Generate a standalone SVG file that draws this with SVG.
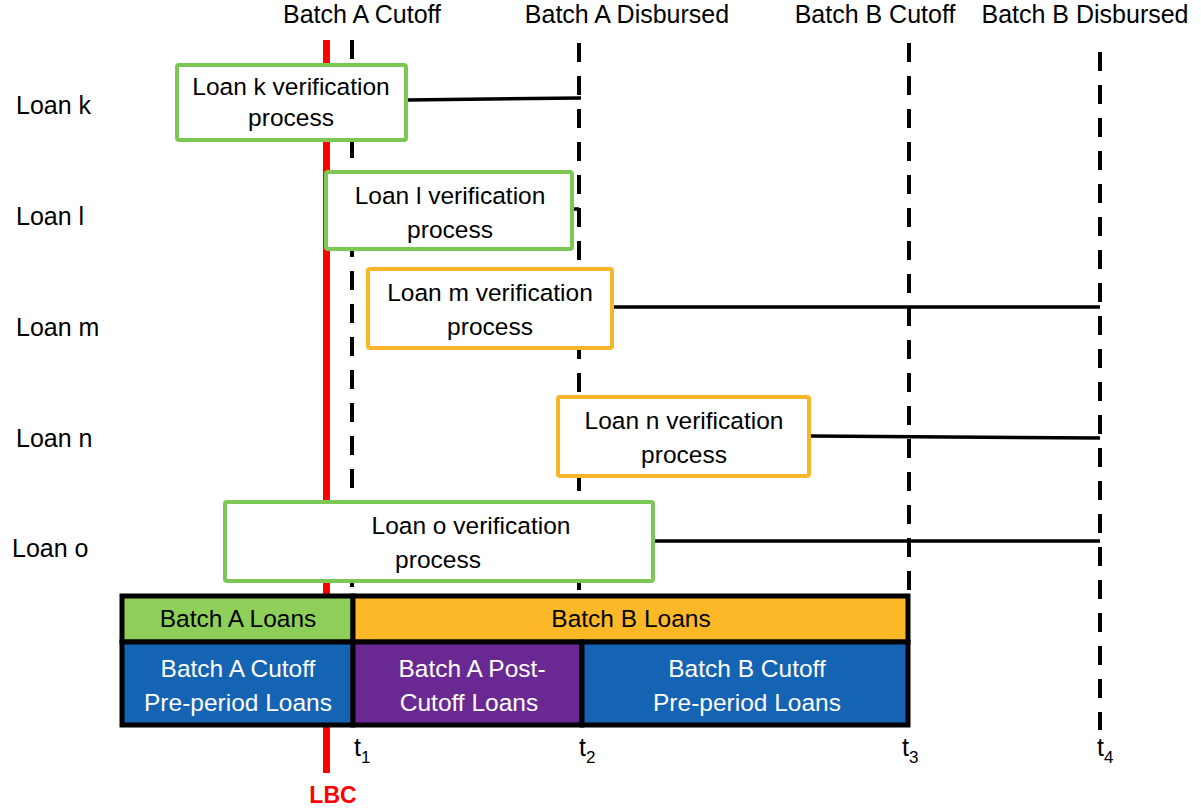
<svg xmlns="http://www.w3.org/2000/svg" width="1201" height="812" viewBox="0 0 1201 812">
<style>
text{font-family:"Liberation Sans",Arial,sans-serif;fill:#000}
.lbl{font-size:25px}
.bx{font-size:24.5px;text-anchor:middle}
.wt{font-size:24.5px;text-anchor:middle;fill:#fff}
.dash{stroke:#000;stroke-width:4;stroke-dasharray:19 14;fill:none}
.gbox{fill:#fff;stroke:#7dc855;stroke-width:4}
.obox{fill:#fff;stroke:#f9b62b;stroke-width:4}
.conn{stroke:#000;stroke-width:3.5;fill:none}
.cell{stroke:#000;stroke-width:5}
.sub{font-size:17px}
</style>
<rect width="1201" height="812" fill="#fff"/>
<g id="top-labels">
<text class="lbl" x="362" y="23" text-anchor="middle">Batch A Cutoff</text>
<text class="lbl" x="627" y="23" text-anchor="middle">Batch A Disbursed</text>
<text class="lbl" x="875" y="23" text-anchor="middle">Batch B Cutoff</text>
<text class="lbl" x="1085" y="23" text-anchor="middle">Batch B Disbursed</text>
</g>
<g id="row-labels">
<text class="lbl" x="16" y="114">Loan k</text>
<text class="lbl" x="16" y="225">Loan l</text>
<text class="lbl" x="16" y="336">Loan m</text>
<text class="lbl" x="16" y="447">Loan n</text>
<text class="lbl" x="12" y="557">Loan o</text>
</g>
<g id="timelines">
<line class="dash" x1="352" y1="40" x2="352" y2="594"/>
<line class="dash" x1="579" y1="43" x2="579" y2="594"/>
<line class="dash" x1="909" y1="43" x2="909" y2="594"/>
<line class="dash" x1="1100" y1="52" x2="1100" y2="730"/>
<line id="lbc-line" x1="326.5" y1="40" x2="326.5" y2="773" stroke="#ff0000" stroke-width="7"/>
</g>
<g id="connectors">
<line class="conn" x1="407" y1="100" x2="581" y2="98"/>
<line class="conn" x1="573" y1="209" x2="579" y2="209"/>
<line class="conn" x1="613" y1="307" x2="1100" y2="307"/>
<line class="conn" x1="810" y1="436" x2="1100" y2="438"/>
<line class="conn" x1="654" y1="541" x2="1100" y2="541"/>
</g>
<g id="loan-k">
<rect class="gbox" x="177" y="65" width="229" height="75" rx="2"/>
<text class="bx" x="291" y="95">Loan k verification</text>
<text class="bx" x="291" y="126">process</text>
</g>
<g id="loan-l">
<rect class="gbox" x="326" y="172" width="246" height="77" rx="2"/>
<text class="bx" x="450" y="204">Loan l verification</text>
<text class="bx" x="450" y="238">process</text>
</g>
<g id="loan-m">
<rect class="obox" x="368" y="269" width="244" height="79" rx="2"/>
<text class="bx" x="490" y="301">Loan m verification</text>
<text class="bx" x="490" y="335">process</text>
</g>
<g id="loan-n">
<rect class="obox" x="558" y="397" width="251" height="79" rx="2"/>
<text class="bx" x="684" y="429">Loan n verification</text>
<text class="bx" x="684" y="463">process</text>
</g>
<g id="loan-o">
<rect class="gbox" x="225" y="502" width="428" height="79" rx="2"/>
<text class="bx" x="471" y="534">Loan o verification</text>
<text class="bx" x="438" y="568">process</text>
</g>
<g id="batch-a-loans">
<rect class="cell" x="122" y="596" width="231" height="46" fill="#8ecf5a"/>
<text class="bx" x="238" y="627">Batch A Loans</text>
</g>
<g id="batch-b-loans">
<rect class="cell" x="353" y="596" width="555" height="46" fill="#fdb827"/>
<text class="bx" x="631" y="627">Batch B Loans</text>
</g>
<g id="batch-a-pre">
<rect class="cell" x="122" y="642" width="231" height="83" fill="#1563b3"/>
<text class="wt" x="238" y="677">Batch A Cutoff</text>
<text class="wt" x="238" y="711">Pre-period Loans</text>
</g>
<g id="batch-a-post">
<rect class="cell" x="353" y="642" width="229" height="83" fill="#6a2992"/>
<text class="wt" x="472" y="677">Batch A Post-</text>
<text class="wt" x="469" y="711">Cutoff Loans</text>
</g>
<g id="batch-b-pre">
<rect class="cell" x="582" y="642" width="326" height="83" fill="#1563b3"/>
<text class="wt" x="747" y="677">Batch B Cutoff</text>
<text class="wt" x="747" y="711">Pre-period Loans</text>
</g>
<g id="time-labels">
<text class="lbl" x="354" y="756">t<tspan class="sub" dy="7">1</tspan></text>
<text class="lbl" x="579" y="756">t<tspan class="sub" dy="7">2</tspan></text>
<text class="lbl" x="902" y="756">t<tspan class="sub" dy="7">3</tspan></text>
<text class="lbl" x="1097" y="756">t<tspan class="sub" dy="7">4</tspan></text>
<text x="333" y="803" text-anchor="middle" font-size="23" font-weight="bold" style="fill:#ff0000">LBC</text>
</g>
</svg>
